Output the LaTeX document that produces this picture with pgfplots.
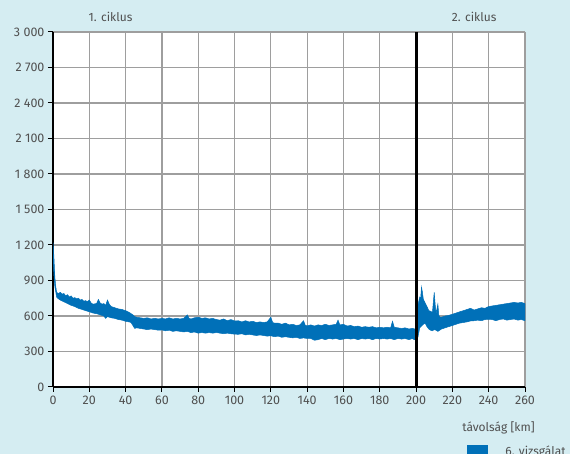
\documentclass[border=0pt]{standalone}
\usepackage{pgfplots}
\pgfplotsset{compat=1.18}
\usepackage{fontspec}
\setmainfont{Fira Sans}
\definecolor{bgc}{HTML}{D5EDF2}
\definecolor{dblue}{HTML}{0070B8}
\definecolor{txt}{HTML}{505050}
\begin{document}
\begin{tikzpicture}
\fill[bgc] (-53pt,-67pt) rectangle (517pt,387pt);
\useasboundingbox (-53pt,-67pt) rectangle (517pt,387pt);
\begin{axis}[
  at={(0pt,0pt)}, anchor=origin,
  scale only axis, width=472pt, height=355pt,
  xmin=0, xmax=260, ymin=0, ymax=3000,
  axis x line*=bottom, axis y line*=left,
  axis line style={line width=2.6pt, black},
  axis background/.style={fill=white},
  xtick={0,20,...,260}, ytick={0,300,...,3000},
  tick align=outside, major tick length=5pt,
  tick style={black, line width=1pt},
  grid=major, major grid style={color=black!38, line width=1.2pt},
  font=\fontsize{12}{14}\selectfont\color{txt},
  ticklabel style={font=\fontsize{12.5}{15}\selectfont\color{txt}},
  /pgf/number format/assume math mode=true,
  /pgf/number format/1000 sep={\ },
  clip mode=individual,
  xlabel={távolság [km]},
  xlabel style={at={(rel axis cs:1.021,-0.1155)}, anchor=east, inner sep=0pt},
  legend style={at={(rel axis cs:0.8765,-0.1606)}, anchor=north west, draw=none, fill=none, inner sep=0pt, column sep=16pt, font=\fontsize{12}{14}\selectfont\color{txt}},
  legend image code/.code={\fill[dblue] (0pt,-7pt) rectangle (20pt,7pt);},
]
\addplot[fill=dblue, draw=dblue, line width=0.5pt] coordinates {
(0,1220) (0.5,1100) (1,930) (1.5,850) (2,800) (3,790) (4,800) (5,785) (6,790) (7,770) (8,780) (9,760) (10,770) (11,750) (12,755) (13,745) (14,750) (15,735) (16,740) (17,725) (18,730) (19,720) (20,735) (21,710) (22,700) (24,705) (25,740) (26,710) (27,700) (28,705) (29,690) (30,735) (31,700) (32,680) (34,670) (36,660) (38,655) (40,645) (42,630) (44,610) (45,595) (46,590) (48,585) (50,580) (52,585) (54,575) (56,580) (58,575) (60,580) (62,575) (64,585) (66,575) (68,580) (70,575) (72,580) (74,610) (75,580) (76,575) (78,585) (80,590) (82,580) (84,585) (86,575) (88,580) (90,570) (92,565) (94,575) (96,560) (98,570) (100,558) (102,560) (104,550) (106,560) (108,550) (110,555) (112,545) (114,550) (116,545) (118,550) (120,590) (121,545) (122,540) (124,540) (126,530) (128,540) (130,525) (132,530) (134,520) (136,525) (138,560) (139,520) (140,517) (142,525) (144,515) (146,525) (148,520) (150,530) (152,520) (154,525) (156,530) (157,565) (158,525) (160,530) (162,515) (164,520) (166,510) (168,515) (170,505) (172,510) (174,505) (176,510) (178,500) (180,505) (182,500) (184,505) (186,500) (187,555) (188,505) (190,500) (192,495) (194,500) (196,490) (198,495) (199.5,490) (200,490) (200.5,650) (201,690) (202,760) (202.5,745) (203,845) (203.5,800) (204,740) (205,710) (206,680) (207,645) (208,640) (209,630) (210,800) (210.5,700) (211,620) (212,700) (212.5,610) (213,590) (214,590) (216,600) (218,605) (220,615) (222,625) (224,635) (226,645) (228,655) (230,665) (232,650) (234,660) (236,670) (238,665) (240,680) (242,685) (244,690) (246,695) (248,700) (250,705) (252,710) (254,715) (256,710) (258,715) (260,705)
(260,560) (258,570) (256,565) (254,575) (252,570) (250,565) (248,575) (246,570) (244,560) (242,570) (240,572) (238,570) (236,560) (234,565) (232,560) (230,558) (228,550) (226,545) (224,540) (222,530) (220,520) (218,510) (216,500) (214,490) (213,480) (212,470) (211,480) (210,485) (209,475) (208,480) (207,490) (206,510) (205,540) (204,530) (203,515) (202,500) (201,420) (200.5,410) (200,405) (199,400) (198,410) (196,400) (194,410) (192,405) (190,410) (188,400) (186,410) (184,405) (182,410) (180,405) (178,410) (176,400) (174,410) (172,405) (170,410) (168,400) (166,410) (164,405) (162,410) (160,405) (158,400) (156,410) (154,405) (152,410) (150,400) (148,410) (146,400) (144,395) (142,410) (140,410) (138,415) (136,410) (134,420) (132,415) (130,420) (128,425) (126,420) (124,430) (122,425) (120,433) (118,430) (116,435) (114,440) (112,435) (110,440) (108,445) (106,440) (104,450) (102,445) (100,447) (98,450) (96,455) (94,450) (92,455) (90,460) (88,455) (86,460) (84,455) (82,460) (80,455) (78,465) (76,460) (74,470) (72,465) (70,470) (68,475) (66,470) (64,480) (62,475) (60,482) (58,480) (56,485) (54,490) (52,485) (50,490) (48,495) (46,500) (45,495) (44,520) (43,545) (42,550) (40,555) (38,565) (36,570) (34,580) (32,585) (30,595) (29,580) (28,600) (26,610) (24,620) (22,625) (20,636) (18,645) (16,655) (14,665) (12,680) (10,690) (8,705) (6,720) (4,735) (3,745) (2,760) (1,850) (0.5,950) (0,1100)
};
\addlegendentry{6. vizsgálat}
\addplot[black, line width=3pt, forget plot] coordinates {(200,0) (200,3000)};
\node[txt, font=\fontsize{12}{14}\selectfont] at (axis cs:31.7,3125) {1. ciklus};
\node[txt, font=\fontsize{12}{14}\selectfont] at (axis cs:232,3125) {2. ciklus};
\end{axis}
\end{tikzpicture}
\end{document}
